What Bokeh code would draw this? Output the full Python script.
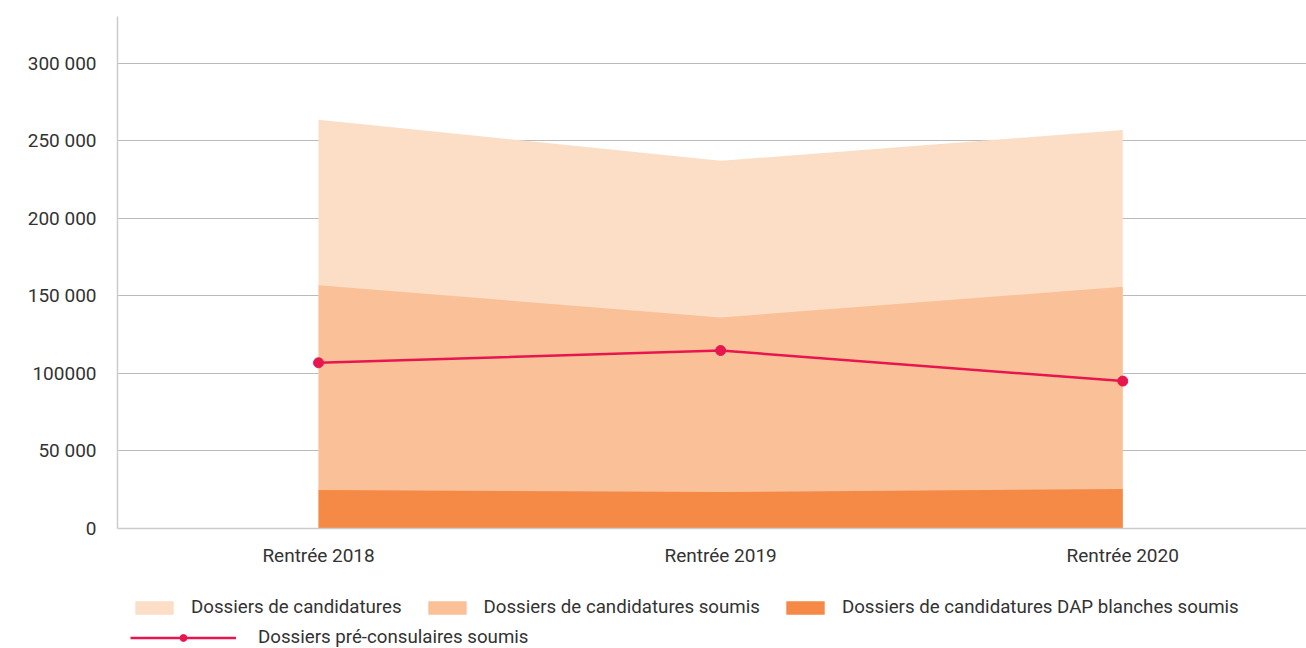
from bokeh.plotting import figure
from bokeh.models import Range1d, FixedTicker, Legend, LegendItem, ColumnDataSource
from bokeh.layouts import column
from bokeh.embed import file_html
from bokeh.resources import INLINE

categories = ["Rentrée 2018", "Rentrée 2019", "Rentrée 2020"]
candidatures = [263500, 237000, 256800]
candidatures_soumis = [156800, 136000, 155800]
dap_blanches_soumis = [24800, 23500, 25500]
pre_consulaires = [106800, 114700, 95000]

y_ticks = [0, 50000, 100000, 150000, 200000, 250000, 300000]
y_tick_labels = ["0", "50 000", "100000", "150 000", "200 000", "250 000", "300 000"]

series_labels = ["Dossiers de candidatures", "Dossiers de candidatures soumis",
                 "Dossiers de candidatures DAP blanches soumis", "Dossiers pré-consulaires soumis"]
colors = ["#FCDDC6", "#FAC199", "#F58A47", "#E8164F"]

xs = list(range(len(categories)))
src = ColumnDataSource(dict(x=xs, c=candidatures, s=candidatures_soumis,
                            d=dap_blanches_soumis, p=pre_consulaires))

FONT = "Roboto"
TXT = "#333333"


def draw_series(fig, marker_size):
    a = fig.varea(x="x", y1=0, y2="c", source=src, fill_color=colors[0])
    b = fig.varea(x="x", y1=0, y2="s", source=src, fill_color=colors[1])
    c = fig.varea(x="x", y1=0, y2="d", source=src, fill_color=colors[2])
    d = fig.line(x="x", y="p", source=src, line_color=colors[3], line_width=2.5)
    e = fig.scatter(x="x", y="p", source=src, size=marker_size,
                    fill_color=colors[3], line_color=colors[3])
    return a, b, c, d, e


p = figure(width=1306, height=575, output_backend="svg", toolbar_location=None,
           x_range=Range1d(-0.5, 2.457), y_range=Range1d(0, 330000),
           min_border_left=117, min_border_right=0, min_border_top=16, min_border_bottom=47)
p.outline_line_color = None
draw_series(p, 10)

p.xaxis.ticker = FixedTicker(ticks=xs)
p.xaxis.major_label_overrides = {i: c for i, c in enumerate(categories)}
p.yaxis.ticker = FixedTicker(ticks=y_ticks)
p.yaxis.major_label_overrides = {t: l for t, l in zip(y_ticks, y_tick_labels)}
for ax in (p.xaxis, p.yaxis):
    ax.major_tick_line_color = None
    ax.minor_tick_line_color = None
    ax.axis_line_color = "#CCCCCC"
    ax.axis_line_width = 1.5
    ax.major_label_text_font = FONT
    ax.major_label_text_font_size = "19px"
    ax.major_label_text_color = TXT
p.yaxis.major_label_standoff = 15
p.xaxis.major_label_standoff = 9
p.xgrid.grid_line_color = None
p.ygrid.ticker = FixedTicker(ticks=y_ticks[1:])
p.ygrid.grid_line_color = "#BBBBBB"
p.ygrid.grid_line_width = 1

# legend strip below the chart (series drawn out of view, only their legend shows)
lf = figure(width=1306, height=73, output_backend="svg", toolbar_location=None,
            x_range=Range1d(-0.5, 2.457), y_range=Range1d(-2, -1),
            min_border_left=0, min_border_right=0, min_border_top=0, min_border_bottom=0)
lf.axis.visible = False
lf.grid.visible = False
lf.outline_line_color = None
l1, l2, l3, l4, l5 = draw_series(lf, 8)

leg1 = Legend(items=[
    LegendItem(label=series_labels[0], renderers=[l1]),
    LegendItem(label=series_labels[1], renderers=[l2]),
    LegendItem(label=series_labels[2], renderers=[l3]),
], orientation="horizontal", location=(13, 30))
leg2 = Legend(items=[
    LegendItem(label=series_labels[3], renderers=[l4, l5]),
], orientation="horizontal", location=(13, 0))
for lg, gw, st in ((leg1, 48, 13), (leg2, 106, 22)):
    lg.glyph_width = gw
    lg.glyph_height = 17
    lg.label_standoff = st
    lg.spacing = 21
    lg.padding = 0
    lg.margin = 0
    lg.border_line_color = None
    lg.background_fill_alpha = 0
    lg.label_text_font = FONT
    lg.label_text_font_size = "18.7px"
    lg.label_text_color = TXT
    lg.label_height = 15
    lg.click_policy = "none"
lf.add_layout(leg1)
lf.add_layout(leg2)

open("out.html", "w").write(file_html(column(p, lf, spacing=0), INLINE))
